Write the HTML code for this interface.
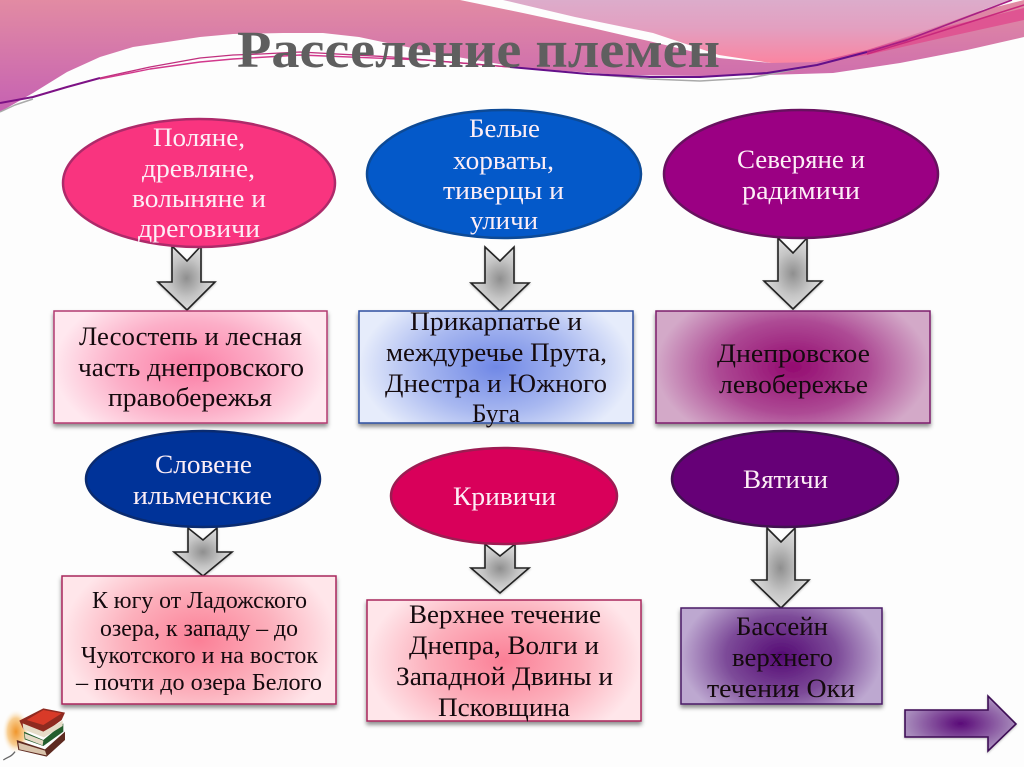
<!DOCTYPE html>
<html><head><meta charset="utf-8"><style>
html,body{margin:0;padding:0;background:#fdfdfd;width:1024px;height:767px;overflow:hidden}
svg{display:block}
text{font-family:"Liberation Serif","Noto Serif CJK SC",serif;font-size:26px}
.w{fill:#fdeef6}.k{fill:#140a0e}
.s{font-size:24px}
</style></head><body>
<svg width="1024" height="767" viewBox="0 0 1024 767" xmlns="http://www.w3.org/2000/svg">
<defs>
<linearGradient id="sw1" gradientUnits="userSpaceOnUse" x1="0" y1="0" x2="0" y2="110"><stop offset="0" stop-color="#e28ba3"/><stop offset="1" stop-color="#c662b2"/></linearGradient>
<linearGradient id="sw2" gradientUnits="userSpaceOnUse" x1="0" y1="0" x2="0" y2="64"><stop offset="0" stop-color="#dcaccb"/><stop offset=".45" stop-color="#e39fc0"/><stop offset="1" stop-color="#fb84a0"/></linearGradient>
<radialGradient id="ar"><stop offset="0" stop-color="#8f8f8f"/><stop offset=".6" stop-color="#c4c4c4"/><stop offset="1" stop-color="#dcdcdc"/></radialGradient>
<radialGradient id="r1" cx=".5" cy=".5" r=".5" gradientTransform="translate(.5 .5) scale(1 1.5) translate(-.5 -.5)"><stop offset="0" stop-color="#fb7fa6"/><stop offset=".55" stop-color="#fcafc8"/><stop offset="1" stop-color="#ffe8ef"/></radialGradient>
<radialGradient id="r2" cx=".5" cy=".5" r=".5" gradientTransform="translate(.5 .5) scale(1 1.5) translate(-.5 -.5)"><stop offset="0" stop-color="#7088e6"/><stop offset=".55" stop-color="#a8b8f0"/><stop offset="1" stop-color="#e6ecfb"/></radialGradient>
<radialGradient id="r3" cx=".5" cy=".5" r=".5" gradientTransform="translate(.5 .5) scale(1 1.5) translate(-.5 -.5)"><stop offset="0" stop-color="#940a70"/><stop offset=".55" stop-color="#ad4a94"/><stop offset="1" stop-color="#d3a9c8"/></radialGradient>
<radialGradient id="r4" cx=".5" cy=".5" r=".5" gradientTransform="translate(.5 .5) scale(1 1.5) translate(-.5 -.5)"><stop offset="0" stop-color="#fb7f96"/><stop offset=".55" stop-color="#fcb0bc"/><stop offset="1" stop-color="#ffe6ea"/></radialGradient>
<radialGradient id="r6" cx=".5" cy=".5" r=".5" gradientTransform="translate(.5 .5) scale(1 1.5) translate(-.5 -.5)"><stop offset="0" stop-color="#550a74"/><stop offset=".55" stop-color="#7c4a98"/><stop offset="1" stop-color="#bda8d0"/></radialGradient>
<radialGradient id="ra" cx=".5" cy=".5" r=".5"><stop offset="0" stop-color="#5a0a78"/><stop offset="1" stop-color="#a88cbc"/></radialGradient>
<radialGradient id="glow"><stop offset="0" stop-color="#f0962c"/><stop offset=".6" stop-color="#f8cf94"/><stop offset="1" stop-color="#fdfdfd" stop-opacity="0"/></radialGradient>
<filter id="sh" x="-10%" y="-10%" width="120%" height="125%"><feDropShadow dx="0" dy="3" stdDeviation="2" flood-color="#000" flood-opacity=".45"/></filter>
<filter id="sh2" x="-10%" y="-10%" width="120%" height="125%"><feDropShadow dx="0" dy="1" stdDeviation="1" flood-color="#000" flood-opacity=".25"/></filter>
</defs>

<rect width="1024" height="767" fill="#fdfdfd"/>

<!-- swooshes -->
<polygon points="0,0 460,0 523,13 588,27 653,42 719,58 771,63 1024,0 1024,37 967,50 900,63 833,73 767,75 700,76 621,75 523,68 457,57 392,44 359,37 323,33 283,33 233,34 200,37 167,42 133,47 100,57 67,72 33,93 0,112" fill="url(#sw1)"/>
<polygon points="503,0 575,17 653,33 719,55 771,63 817,62 867,50 933,28 1010,0" fill="url(#sw2)"/>
<polygon points="767,63 817,62 867,50 933,30 1024,8 1024,20 933,40 867,55 817,62" fill="#df5592"/>

<g fill="none" stroke-linejoin="round">
<polyline points="700,81 750,78 817,65" stroke="#a9a9a9" stroke-width="1.6"/>
<polyline points="600,75 650,79 700,81" stroke="#a9a9a9" stroke-width="1.6"/>
<polyline points="0,112 15,105 33,99" stroke="#aaa" stroke-width="1.5"/>
<polyline points="100,79 150,69 200,62 233,59 300,55 425,60 510,67" stroke="#d2388c" stroke-width="1.4"/>
<polyline points="100,78 150,67 200,58 233,55 261,54 300,52 392,57 450,62 510,67" stroke="#c0307e" stroke-width="1.3"/>
<polyline points="0,103 33,97 67,87 100,78" stroke="#7d1285" stroke-width="2"/>
<polyline points="510,67 588,74 650,77 700,77 767,73 817,65 867,52" stroke="#64108a" stroke-width="2"/>
<polyline points="867,52 907,40 967,17 1012,0" stroke="#a61f84" stroke-width="1.7"/>
<polyline points="867,54 907,42 967,23 1024,5" stroke="#c8287c" stroke-width="1.5"/>
</g>

<text x="237" y="67" textLength="483" lengthAdjust="spacingAndGlyphs" style="font-size:52px;font-weight:bold" fill="#5f5f5f">Расселение племен</text>

<!-- arrows -->
<g fill="url(#ar)" stroke="#222" stroke-width="1.6" filter="url(#sh2)">
<path d="M172,246 L187,261 L201,246 L201,282 L215,282 L187,310 L158,282 L172,282 Z"/>
<path d="M485,247 L500,261 L514,247 L514,283 L529,283 L500,311 L471,283 L485,283 Z"/>
<path d="M778,238 L793,253 L807,238 L807,281 L822,281 L793,309 L764,281 L778,281 Z"/>
<path d="M188,528 L203,540 L217,528 L217,552 L232,552 L203,576 L174,552 L188,552 Z"/>
<path d="M485,544 L500,556 L515,544 L515,568 L529,568 L500,593 L471,568 L485,568 Z"/>
<path d="M767,528 L781,542 L795,528 L795,580 L809,580 L781,608 L752,580 L767,580 Z"/>
</g>

<!-- rectangles -->
<g filter="url(#sh)" stroke-width="1.5">
<rect x="54" y="311" width="273" height="112" fill="url(#r1)" stroke="#b23a70"/>
<rect x="359" y="311" width="274" height="112" fill="url(#r2)" stroke="#2f4f9f"/>
<rect x="656" y="311" width="274" height="112" fill="url(#r3)" stroke="#7c1f6c"/>
<rect x="62" y="576" width="274" height="128" fill="url(#r4)" stroke="#a8285c"/>
<rect x="367" y="600" width="274" height="121" fill="url(#r4)" stroke="#a8285c"/>
<rect x="681" y="608" width="201" height="96" fill="url(#r6)" stroke="#4a1a66"/>
</g>

<!-- ellipses -->
<ellipse cx="199" cy="183" rx="136" ry="64" fill="#f9347f" stroke="#ae2a6a" stroke-width="2.5"/>
<ellipse cx="504" cy="174" rx="137" ry="64" fill="#0459c9" stroke="#0d4a96" stroke-width="2.5"/>
<ellipse cx="801" cy="174" rx="137" ry="64" fill="#9b0083" stroke="#68115f" stroke-width="2.5"/>
<ellipse cx="203" cy="479" rx="117" ry="48" fill="#003399" stroke="#0a2b70" stroke-width="2.5"/>
<ellipse cx="504" cy="496" rx="113" ry="48" fill="#d9005a" stroke="#9c1c52" stroke-width="2.5"/>
<ellipse cx="785" cy="479" rx="113" ry="48" fill="#660077" stroke="#40124f" stroke-width="2.5"/>

<!-- ellipse text -->
<g class="w">
<text x="153" y="146" textLength="92" lengthAdjust="spacingAndGlyphs">Поляне,</text>
<text x="142" y="177" textLength="113" lengthAdjust="spacingAndGlyphs">древляне,</text>
<text x="132" y="207" textLength="134" lengthAdjust="spacingAndGlyphs">волыняне и</text>
<text x="138" y="237" textLength="122" lengthAdjust="spacingAndGlyphs">дреговичи</text>
<text x="469" y="137" textLength="71" lengthAdjust="spacingAndGlyphs">Белые</text>
<text x="453" y="169" textLength="101" lengthAdjust="spacingAndGlyphs">хорваты,</text>
<text x="443" y="199" textLength="121" lengthAdjust="spacingAndGlyphs">тиверцы и</text>
<text x="470" y="229" textLength="68" lengthAdjust="spacingAndGlyphs">уличи</text>
<text x="737" y="168" textLength="128" lengthAdjust="spacingAndGlyphs">Северяне и</text>
<text x="742" y="199" textLength="118" lengthAdjust="spacingAndGlyphs">радимичи</text>
<text x="155" y="473" textLength="97" lengthAdjust="spacingAndGlyphs">Словене</text>
<text x="133" y="504" textLength="139" lengthAdjust="spacingAndGlyphs">ильменские</text>
<text x="453" y="505" textLength="103" lengthAdjust="spacingAndGlyphs">Кривичи</text>
<text x="743" y="488" textLength="85" lengthAdjust="spacingAndGlyphs">Вятичи</text>
</g>

<!-- rectangle text -->
<g class="k">
<text x="79" y="345" textLength="223" lengthAdjust="spacingAndGlyphs">Лесостепь и лесная</text>
<text x="78" y="376" textLength="226" lengthAdjust="spacingAndGlyphs">часть днепровского</text>
<text x="108" y="406" textLength="164" lengthAdjust="spacingAndGlyphs">правобережья</text>
<text x="410" y="330" textLength="172" lengthAdjust="spacingAndGlyphs">Прикарпатье и</text>
<text x="386" y="361" textLength="221" lengthAdjust="spacingAndGlyphs">междуречье Прута,</text>
<text x="385" y="392" textLength="222" lengthAdjust="spacingAndGlyphs">Днестра и Южного</text>
<text x="472" y="422" textLength="48" lengthAdjust="spacingAndGlyphs">Буга</text>
<text x="717" y="362" textLength="153" lengthAdjust="spacingAndGlyphs">Днепровское</text>
<text x="719" y="393" textLength="149" lengthAdjust="spacingAndGlyphs">левобережье</text>
<text class="s" x="92" y="608" textLength="215" lengthAdjust="spacingAndGlyphs">К югу от Ладожского</text>
<text class="s" x="100" y="636" textLength="198" lengthAdjust="spacingAndGlyphs">озера, к западу – до</text>
<text class="s" x="81" y="663" textLength="237" lengthAdjust="spacingAndGlyphs">Чукотского и на восток</text>
<text class="s" x="76" y="690" textLength="246" lengthAdjust="spacingAndGlyphs">– почти до озера Белого</text>
<text x="409" y="623" textLength="192" lengthAdjust="spacingAndGlyphs">Верхнее течение</text>
<text x="409" y="654" textLength="190" lengthAdjust="spacingAndGlyphs">Днепра, Волги и</text>
<text x="396" y="685" textLength="217" lengthAdjust="spacingAndGlyphs">Западной Двины и</text>
<text x="438" y="716" textLength="132" lengthAdjust="spacingAndGlyphs">Псковщина</text>
<text x="736" y="635" textLength="92" lengthAdjust="spacingAndGlyphs">Бассейн</text>
<text x="732" y="666" textLength="101" lengthAdjust="spacingAndGlyphs">верхнего</text>
<text x="707" y="697" textLength="148" lengthAdjust="spacingAndGlyphs">течения Оки</text>
</g>

<!-- nav arrow -->
<path d="M905,710 L988,710 L988,696 L1016,724 L988,751 L988,737 L905,737 Z" fill="url(#ra)" stroke="#3e0c55" stroke-width="1.6" filter="url(#sh2)"/>

<!-- books -->
<g transform="translate(0,690) scale(.3333)">
<ellipse cx="48" cy="125" rx="42" ry="68" fill="url(#glow)"/>
<path d="M50,150 L135,178 L195,125 L195,150 L140,200 L55,180 Z" fill="#5e2a20"/>
<path d="M55,158 L135,182 L140,196 L58,178 Z" fill="#d9c4ac"/>
<path d="M72,125 L130,150 L190,100 L190,125 L130,168 L74,148 Z" fill="#245e2e"/>
<path d="M74,130 L130,152 L128,166 L76,146 Z" fill="#e6dac6"/>
<path d="M58,92 L130,55 L195,68 L185,90 L130,130 L70,118 Z" fill="#8f2a20"/>
<path d="M80,90 L130,60 L185,70 L130,105 Z" fill="#d83a28"/>
<path d="M68,100 L130,125 L188,92 L188,108 L132,142 L70,118 Z" fill="#e6dcc8"/>
<path d="M10,210 C25,200 35,200 45,185" fill="none" stroke="#666" stroke-width="4"/>
</g>
</svg>
</body></html>
